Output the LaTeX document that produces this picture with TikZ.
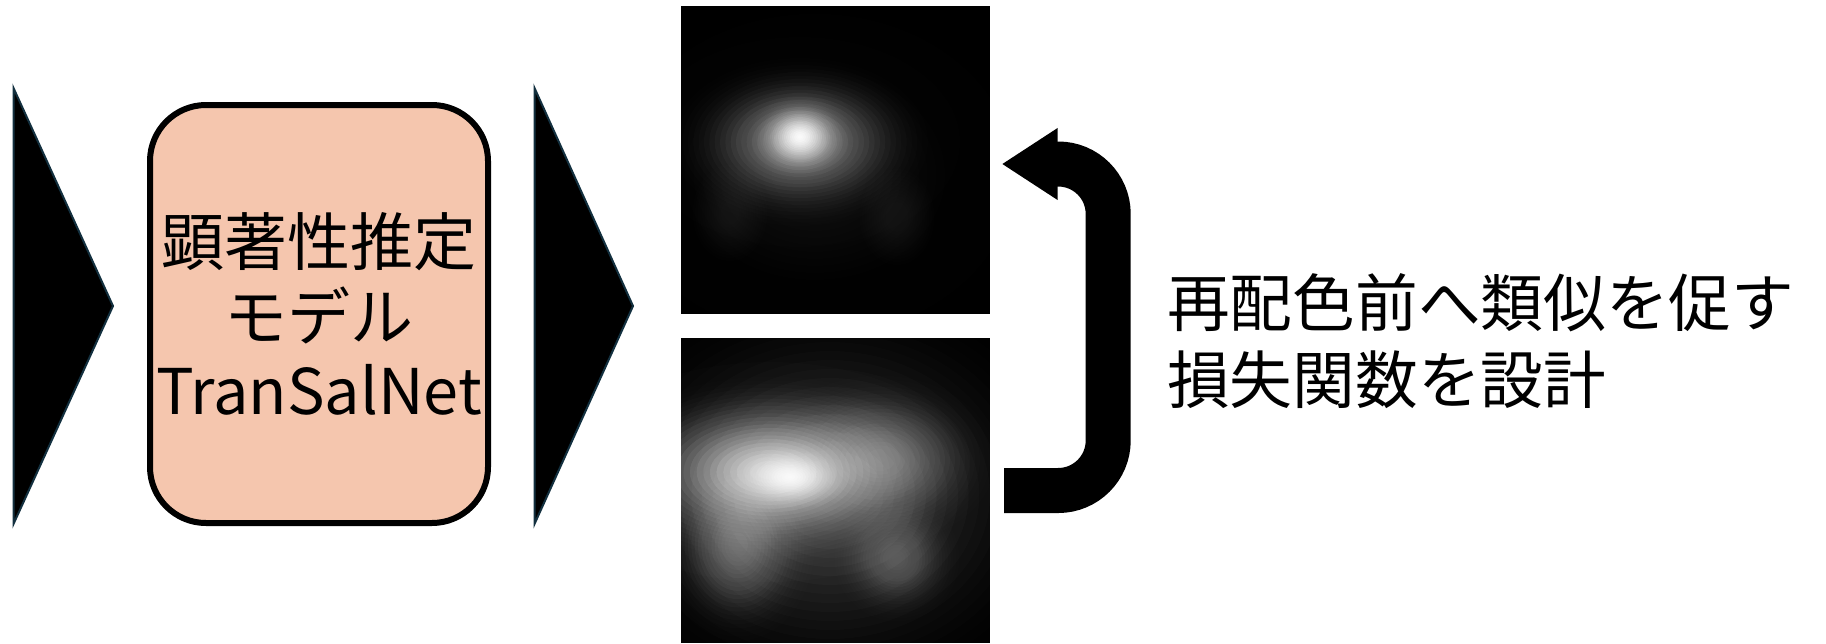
\documentclass[tikz,border=0pt]{standalone}
\usepackage{fontspec}
\setmainfont{Noto Sans CJK JP}
\usetikzlibrary{arrows.meta}

\definecolor{peach}{RGB}{245,198,174}
\definecolor{edgeteal}{RGB}{19,48,63}

% soft white glow with a Gaussian profile, built from stacked translucent
% ellipses: centre x, centre y, outer radius x, outer radius y, peak opacity
\newcommand\glowblob[5]{%
  \foreach \k in {1,...,30}{%
    \pgfmathsetmacro\glowin{#5*exp(-4.5*((\k-0.5)/30)^2)}%
    \pgfmathsetmacro\glowout{ifthenelse(\k==30,0,#5*exp(-4.5*((\k+0.5)/30)^2))}%
    \pgfmathsetmacro\glowalpha{1-(1-\glowin)/(1-\glowout)}%
    \fill[white, fill opacity=\glowalpha] (#1,#2)
      ellipse ({#3*\k/30} and {#4*\k/30});
  }%
}

\tikzset{
  chevron/.style={fill=black, draw=edgeteal, line width=2pt, line join=miter},
  modelbox/.style={draw=black, line width=6pt, fill=peach, rounded corners=56pt,
    minimum width=338pt, minimum height=418pt, inner sep=0pt, align=center,
    font=\fontsize{63}{74.5}\selectfont},
  heatmap/.style={fill=black, minimum width=309pt, inner sep=0pt},
  feedback/.style={line width=45pt, rounded corners=50pt,
    -{Triangle[length=56pt,width=68pt]}},
  caption/.style={align=left, inner sep=0pt, anchor=west,
    font=\fontsize{62.7}{77}\selectfont}
}

\begin{document}
\begin{tikzpicture}[x=1pt, y=-1pt]
\useasboundingbox (0,0) rectangle (1826,643);

% flow chevrons
\draw[chevron] (13.5,88) -- (113,306) -- (13.5,524) -- cycle;
\draw[chevron] (534.5,88) -- (633,306) -- (534.5,524) -- cycle;

% saliency model
\node[modelbox] (model) at (319,314) {顕著性推定\\モデル\\TranSalNet};

% saliency maps
\node[heatmap, minimum height=308pt] (topmap) at (835.5,160) {};
\node[heatmap, minimum height=305pt] (botmap) at (835.5,490.5) {};

\begin{scope}
  \clip (topmap.south west) rectangle (topmap.north east);
  \glowblob{815}{175}{260}{210}{0.12}
  \glowblob{730}{213}{70}{90}{0.14}
  \glowblob{897}{217}{70}{90}{0.13}
  \glowblob{800}{142}{160}{105}{0.5}
  \glowblob{800}{137}{60}{50}{0.99}
\end{scope}

\begin{scope}
  \clip (botmap.south west) rectangle (botmap.north east);
  \glowblob{830}{495}{320}{270}{0.3}
  \glowblob{880}{460}{150}{110}{0.4}
  \glowblob{738}{545}{100}{125}{0.4}
  \glowblob{897}{559}{85}{85}{0.3}
  \glowblob{770}{472}{200}{110}{0.8}
  \glowblob{790}{477}{80}{45}{0.97}
\end{scope}

% feedback arrow from the lower map back to the upper one
\draw[feedback] ([xshift=14pt]botmap.east) -- ++(104,0)
  |- ([xshift=11.5pt,yshift=-4pt]topmap.east);

% loss description
\node[caption] (loss) at (1167,341.5) {再配色前へ類似を促す\\損失関数を設計};
\end{tikzpicture}
\end{document}
